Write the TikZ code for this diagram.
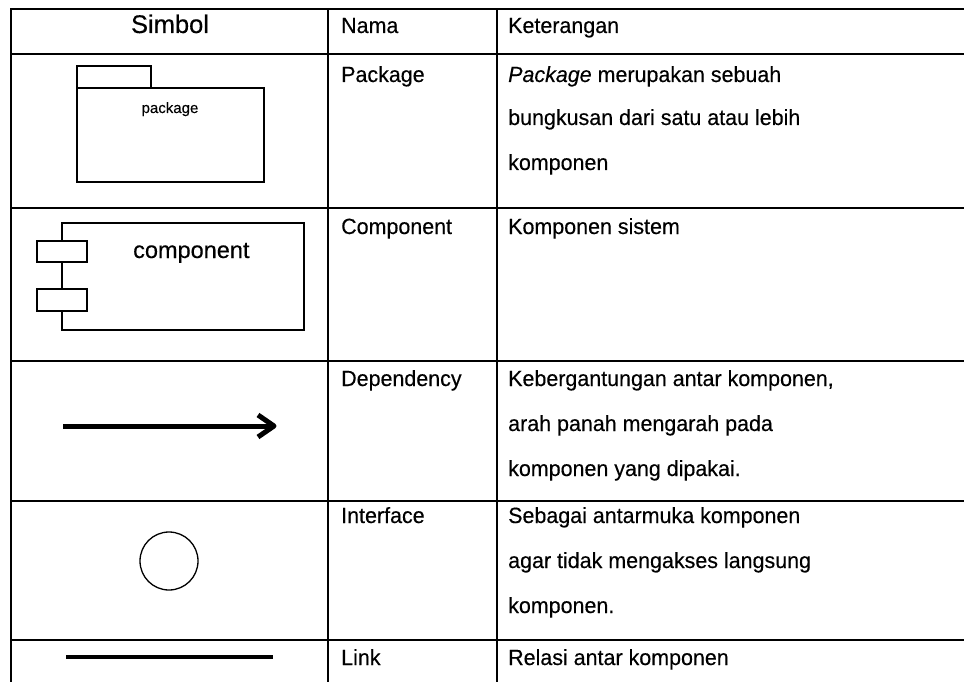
\documentclass[tikz,border=0pt]{standalone}
\usepackage{fontspec}
\setmainfont{Liberation Sans}
\newfontfamily\bodyfont[FakeStretch=0.975,FakeBold=0.3]{Liberation Sans}
\newfontfamily\headfont[FakeBold=0.3]{Liberation Sans}
\begin{document}
\begin{tikzpicture}[x=1pt,y=-1pt,
  grid/.style={line width=2pt},
  txt/.style={inner sep=0pt, anchor=base west, font=\bodyfont\fontsize{22}{22}\selectfont},
  thinline/.style={line width=1.3pt},
  thickline/.style={line width=5pt}]
\useasboundingbox (0,0) rectangle (964,682);
\fill[white] (0,0) rectangle (964,682);
% table grid
\draw[grid] (964,9) -- (11,9) -- (11,683);
\foreach \y in {54,208,361,501,640} \draw[grid] (11,\y) -- (964,\y);
\draw[grid] (328,9) -- (328,683);
\draw[grid] (497,9) -- (497,683);
% header
\node[inner sep=0pt, anchor=base, font=\headfont\fontsize{25.5}{25.5}\selectfont] (hSimbol) at (170,33) {Simbol};
\node[txt] (hNama) at (341,33) {Nama};
\node[txt] (hKet) at (508,33) {Keterangan};
% row 1
\node[txt] (n1) at (341,82) {Package};
\node[txt] (k1a) at (508,82) {\itshape Package\upshape{} merupakan sebuah};
\node[txt] (k1b) at (508,125) {bungkusan dari satu atau lebih};
\node[txt] (k1c) at (508,170) {komponen};
% row 2
\node[txt] (n2) at (341,234) {Component};
\node[txt] (k2a) at (508,234) {Komponen sistem};
% row 3
\node[txt] (n3) at (341,386) {Dependency};
\node[txt] (k3a) at (508,386) {Kebergantungan antar komponen,};
\node[txt] (k3b) at (508,431) {arah panah mengarah pada};
\node[txt] (k3c) at (508,476) {komponen yang dipakai.};
% row 4
\node[txt] (n4) at (341,523) {Interface};
\node[txt] (k4a) at (508,523) {Sebagai antarmuka komponen};
\node[txt] (k4b) at (508,568) {agar tidak mengakses langsung};
\node[txt] (k4c) at (508,613) {komponen.};
% row 5
\node[txt] (n5) at (341,665) {Link};
\node[txt] (k5a) at (508,665) {Relasi antar komponen};
% package symbol
\draw[thinline] (77,88) rectangle (151,66);
\draw[thinline] (77,88) rectangle (264,182);
\node[inner sep=0pt, anchor=base, font=\headfont\fontsize{15}{15}\selectfont] (pkg) at (170,113) {package};
% component symbol
\draw[thinline] (62,223) rectangle (304,330);
\draw[thinline, fill=white] (37,241) rectangle (87,262);
\draw[thinline, fill=white] (37,289) rectangle (87,311);
\node[inner sep=0pt, anchor=base west, font=\headfont\fontsize{23.5}{23.5}\selectfont] (comp) at (133,258) {component};
% dependency arrow
\coordinate (depS) at (63,426);
\coordinate (depT) at (274,426);
\draw[thickline] (depS) -- (depT);
\draw[thickline, line join=round] (258,415) -- (depT) -- (258,437);
% interface
\node[draw, circle, thinline, minimum size=58pt, inner sep=0pt] (iface) at (169,561) {};
% link
\coordinate (linkS) at (66,657);
\coordinate (linkT) at (273,657);
\draw[line width=4pt] (linkS) -- (linkT);
\end{tikzpicture}
\end{document}
